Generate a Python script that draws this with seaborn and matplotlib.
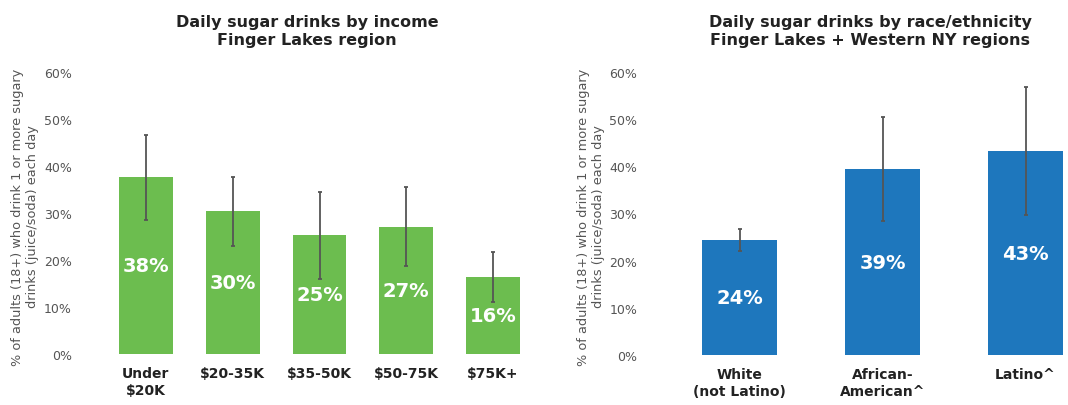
import matplotlib
matplotlib.use("Agg")
import matplotlib.pyplot as plt
import pandas as pd
import seaborn as sns

# data
income_cats = ["Under\n$20K", "$20-35K", "$35-50K", "$50-75K", "$75K+"]
income_vals = [37.7, 30.4, 25.3, 27.0, 16.4]
income_lo = [28.5, 23.0, 16.0, 18.8, 11.0]
income_hi = [46.6, 37.7, 34.5, 35.5, 21.7]

race_cats = ["White\n(not Latino)", "African-\nAmerican^", "Latino^"]
race_vals = [24.4, 39.4, 43.2]
race_lo = [22.0, 28.4, 29.7]
race_hi = [26.7, 50.4, 56.8]

yticks = [0, 10, 20, 30, 40, 50, 60]
ylabel = "% of adults (18+) who drink 1 or more sugary\ndrinks (juice/soda) each day"

GREEN = "#6cbd4f"
BLUE = "#1e77bd"
W, H = 1068, 406

sns.set_theme(style="white")
plt.rcParams["font.family"] = ["DejaVu Sans"]

fig = plt.figure(figsize=(W / 100, H / 100), dpi=100)


def draw_panel(ax, cats, vals, lo, hi, color, width):
    df = pd.DataFrame({"cat": cats, "val": vals})
    sns.barplot(data=df, x="cat", y="val", color=color, saturation=1,
                width=width, linewidth=0, ax=ax)
    xs = range(len(cats))
    err = [[v - l for v, l in zip(vals, lo)], [h - v for v, h in zip(vals, hi)]]
    ax.errorbar(xs, vals, yerr=err, fmt="none", ecolor="#555555",
                elinewidth=1.3, capsize=1.2, capthick=1.3)
    for x, v in zip(xs, vals):
        ax.text(x, v / 2, f"{round(v)}%", ha="center", va="center",
                color="white", fontsize=14, fontweight="bold")
    ax.set_xlim(-0.5, len(cats) - 0.5)
    ax.set_ylim(0, 60)
    ax.set_yticks(yticks)
    ax.set_yticklabels([f"{t}%" for t in yticks], fontsize=9, color="#555555")
    ax.set_xticks(list(xs))
    ax.set_xticklabels(cats, fontsize=10, fontweight="bold", color="#222222")
    ax.tick_params(axis="x", length=0, pad=9)
    ax.tick_params(axis="y", length=0, pad=22)
    ax.set_xlabel("")
    ax.set_ylabel("")
    sns.despine(ax=ax, left=True, bottom=True)


# left panel: income
ax1 = fig.add_axes([102.5 / W, (H - 355) / H, 434 / W, 282 / H])
draw_panel(ax1, income_cats, income_vals, income_lo, income_hi, GREEN, 0.62)

# right panel: race/ethnicity (runs off the right edge like the source)
ax2 = fig.add_axes([668 / W, (H - 356) / H, 429 / W, 283 / H])
draw_panel(ax2, race_cats, race_vals, race_lo, race_hi, BLUE, 0.52)

fig.text(307 / W, 1 - 32 / H, "Daily sugar drinks by income\nFinger Lakes region",
         ha="center", va="center", fontsize=11.5, fontweight="bold",
         color="#222222", linespacing=1.25)
fig.text(870 / W, 1 - 32 / H,
         "Daily sugar drinks by race/ethnicity\nFinger Lakes + Western NY regions",
         ha="center", va="center", fontsize=11.5, fontweight="bold",
         color="#222222", linespacing=1.25)

for xpix in (25, 591):
    fig.text(xpix / W, 1 - 217 / H, ylabel, rotation=90, ha="center",
             va="center", fontsize=9.3, color="#555555", multialignment="center")

fig.savefig("out.png", dpi=100)
